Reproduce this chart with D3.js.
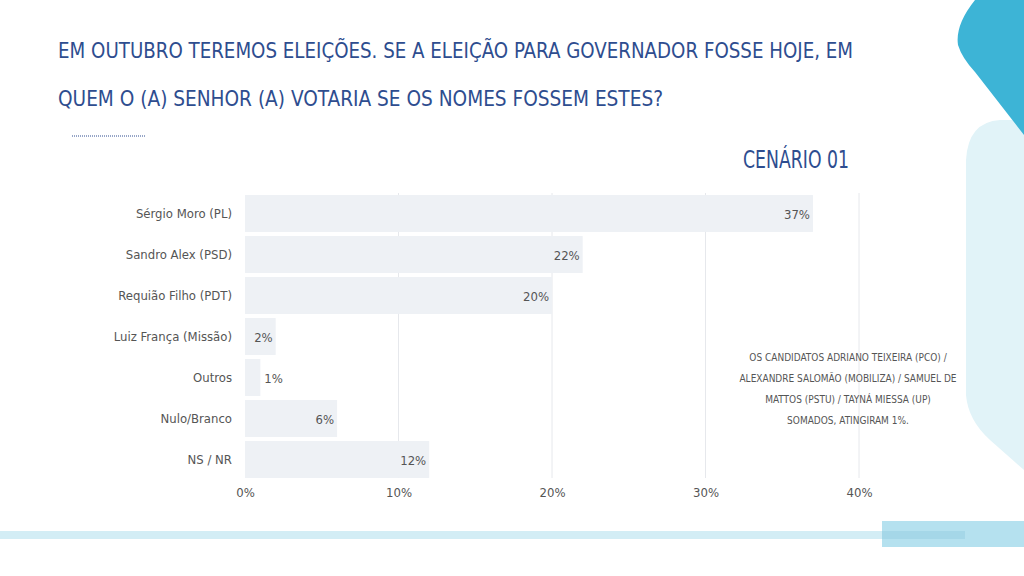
<!DOCTYPE html>
<html><head><meta charset="utf-8">
<script src="https://cdn.jsdelivr.net/npm/d3@7"></script>
<style>body{margin:0;background:#fff}svg{display:block}</style>
</head><body><svg id="c" width="1024" height="576"></svg>
<script>
const categories=["Sérgio Moro (PL)","Sandro Alex (PSD)","Requião Filho (PDT)","Luiz França (Missão)","Outros","Nulo/Branco","NS / NR"];
const values=[37,22,20,2,1,6,12];
const ticks=[0,10,20,30,40];
const noteLines=["OS CANDIDATOS ADRIANO TEIXEIRA (PCO) /","ALEXANDRE SALOMÃO (MOBILIZA) / SAMUEL DE","MATTOS (PSTU) / TAYNÁ MIESSA (UP)","SOMADOS, ATINGIRAM 1%."];
const F="'DejaVu Sans Condensed','Liberation Sans',sans-serif";
const svg=d3.select("#c");
svg.append("path").attr("d","M1024,120 L1000,120 Q968,122 966,160 L966,395 Q968,420 990,440 L1024,470 Z").attr("fill","#e1f3f8");
svg.append("path").attr("d","M1024,0 L975,0 Q955,25 958,45 Q962,58 975,72 L1024,135 Z").attr("fill","#3db4d6");
svg.append("rect").attr("x",0).attr("y",531).attr("width",965).attr("height",8).attr("fill","#d3edf5");
svg.append("rect").attr("x",882).attr("y",521).attr("width",142).attr("height",26).attr("fill","#b5e1ef");
svg.append("rect").attr("x",882).attr("y",531).attr("width",83).attr("height",8).attr("fill","#a5d7e8");
const titleLines=["EM OUTUBRO TEREMOS ELEIÇÕES. SE A ELEIÇÃO PARA GOVERNADOR FOSSE HOJE, EM","QUEM O (A) SENHOR (A) VOTARIA SE OS NOMES FOSSEM ESTES?"];
const titleW=[795,605];
svg.selectAll(".t").data(titleLines).join("text").attr("x",58).attr("y",(d,i)=>58+i*48)
 .attr("textLength",(d,i)=>titleW[i]).attr("lengthAdjust","spacingAndGlyphs")
 .attr("font-family",F).attr("font-size",22).attr("fill","#2e4d8f").text(d=>d);
svg.append("line").attr("x1",72).attr("x2",145).attr("y1",136).attr("y2",136).attr("stroke","#2e4d8f").attr("stroke-dasharray","1,1");
svg.append("text").attr("x",743).attr("y",168).attr("textLength",106).attr("lengthAdjust","spacingAndGlyphs").attr("font-family",F).attr("font-size",25).attr("fill","#2e4d8f").text("CENÁRIO 01");
const x=d3.scaleLinear().domain([0,40]).range([245,859]);
const y=d3.scaleBand().domain(categories).range([193,480]).paddingInner(0.1).paddingOuter(0.05);
const g=svg.append("g");
g.selectAll(".grid").data(ticks.slice(1)).join("line").attr("x1",d=>x(d)).attr("x2",d=>x(d)).attr("y1",193).attr("y2",478).attr("stroke","#e6e8ec");
g.selectAll(".bar").data(values).join("rect").attr("x",x(0)).attr("y",(d,i)=>y(categories[i])).attr("width",d=>x(d)-x(0)).attr("height",y.bandwidth()).attr("fill","#eef1f5");
g.selectAll(".vl").data(values).join("text").attr("x",d=>d<2?x(d)+4:x(d)-3).attr("y",(d,i)=>y(categories[i])+y.bandwidth()/2+5).attr("text-anchor",d=>d<2?"start":"end").attr("font-family",F).attr("font-size",13).attr("fill","#555").text(d=>d+"%");
const ax=svg.append("g").attr("transform","translate(0,478)").call(d3.axisBottom(x).tickValues(ticks).tickFormat(d=>d+"%").tickSize(0).tickPadding(10));
ax.select(".domain").remove();
ax.selectAll("text").attr("font-family",F).attr("font-size",13).attr("fill","#555");
const ay=svg.append("g").attr("transform","translate(245,0)").call(d3.axisLeft(y).tickSize(0).tickPadding(13));
ay.select(".domain").remove();
ay.selectAll("text").attr("font-family",F).attr("font-size",13).attr("fill","#555");
svg.append("text").attr("font-family",F).attr("font-size",10).attr("fill","#555").attr("text-anchor","middle")
 .selectAll("tspan").data(noteLines).join("tspan").attr("x",848).attr("y",(d,i)=>361+i*21).text(d=>d);
</script></body></html>
